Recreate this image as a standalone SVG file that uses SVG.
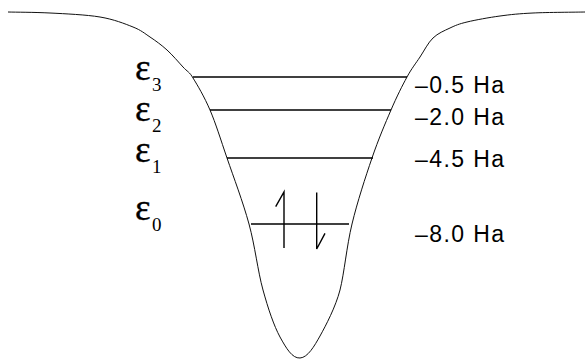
<svg xmlns="http://www.w3.org/2000/svg" width="585" height="360" viewBox="0 0 585 360">
<style>
.curve{fill:none;stroke:#111;stroke-width:1}
.lvl{stroke:#000;stroke-width:1.4}
.spin{fill:none;stroke:#000;stroke-width:1.4;stroke-linecap:butt}
.eps{font-family:"Liberation Serif","Times New Roman",serif;font-size:37px;fill:#000;stroke:#000;stroke-width:0.35}
.sub{font-family:"Liberation Serif","Times New Roman",serif;font-size:19px;fill:#000}
.en{font-family:"Liberation Sans",Arial,sans-serif;font-size:23px;fill:#000;letter-spacing:1.4px}
</style>
<rect width="585" height="360" fill="#fff"/>
<g id="well">
<path class="curve" d="M8,12 C15,12.2 34.7,12.2 50,13 C65.3,13.8 86.2,14.7 100,17 C113.8,19.3 124.7,23.7 133,27 C141.3,30.3 144.3,33.2 150,37 C155.7,40.8 161.5,45 167,50 C172.5,55 178.7,62.3 183,67 C187.3,71.7 189.5,71.8 193,78 C197.5,85.2 204.3,96.7 210,110 C215.7,123.3 220.5,139 227,158 C233.5,177 243,202 249,224 C255,246 257.8,271.2 263,290 C268.2,308.8 273.8,325.5 280,337 C286.2,348.2 292.2,358.5 300,358 C307.8,357.5 314.3,346.2 320,336 C325.7,325.8 335.8,306.5 340,290 C344.2,273.5 346.7,246 352,224 C357.3,202 365.5,177 372,158 C378.5,139 385.2,123.5 391,110 C396.8,96.5 402.2,85.8 407,77 C411.8,68.2 415.7,63.5 420,57 C424.3,50.5 428,42.8 433,38 C438,33.2 444.3,30.7 450,28 C455.7,25.3 458.7,24 467,22 C475.3,20 489,17.5 500,16 C511,14.5 518.8,13.7 533,13 C547.2,12.3 576.3,12.2 585,12"/>
</g>
<g id="levels">
<line class="lvl" x1="193" y1="77" x2="407" y2="77"/>
<line class="lvl" x1="210" y1="110" x2="391" y2="110"/>
<line class="lvl" x1="227" y1="158" x2="373" y2="158"/>
<line class="lvl" x1="251" y1="224" x2="349" y2="224"/>
</g>
<g id="electrons">
<path class="spin" d="M284,248 L284,192 L275.7,206.7"/>
<path class="spin" d="M316.7,192.5 L316.7,249 L325,233.3"/>
</g>
<g id="eps-labels">
<text class="eps" x="135" y="80">ε</text><text class="sub" x="152" y="91">3</text>
<text class="eps" x="135" y="121">ε</text><text class="sub" x="152" y="132">2</text>
<text class="eps" x="135" y="162">ε</text><text class="sub" x="152" y="173">1</text>
<text class="eps" x="135" y="220">ε</text><text class="sub" x="152" y="231">0</text>
</g>
<g id="energy-labels">
<text class="en" x="415" y="93">–0.5 Ha</text>
<text class="en" x="415" y="125">–2.0 Ha</text>
<text class="en" x="415" y="167">–4.5 Ha</text>
<text class="en" x="415" y="242">–8.0 Ha</text>
</g>
</svg>
